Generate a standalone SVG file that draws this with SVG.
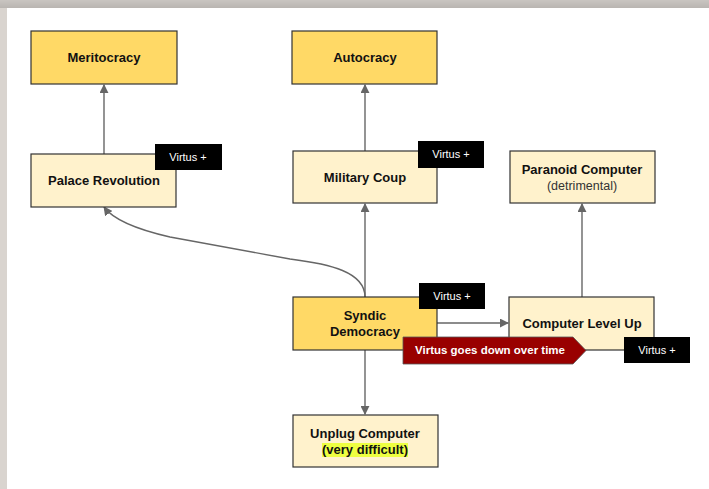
<svg xmlns="http://www.w3.org/2000/svg" width="709" height="489" viewBox="0 0 709 489">
<defs>
<marker id="ah" viewBox="0 0 10 10" refX="9" refY="5" markerWidth="9" markerHeight="9" markerUnits="userSpaceOnUse" orient="auto"><path d="M0,0 L10,5 L0,10 z" fill="#666"/></marker>
<linearGradient id="bgtop" x1="0" y1="0" x2="0" y2="1"><stop offset="0" stop-color="#c9c5c1"/><stop offset="1" stop-color="#b9b5b1"/></linearGradient>
<style>
.dark{fill:#ffd966;stroke:#333;stroke-width:1.2}
.light{fill:#fff2cc;stroke:#333;stroke-width:1.2}
.t{font-family:"Liberation Sans",Arial,sans-serif;font-size:13px;font-weight:bold;fill:#111;text-anchor:middle}
.n{font-weight:normal;fill:#333;font-size:12.5px}
.tag{fill:#000}
.tt{font-family:"Liberation Sans",Arial,sans-serif;font-size:11px;fill:#fff;text-anchor:middle}
.c{fill:none;stroke:#666;stroke-width:1.4;marker-end:url(#ah)}
</style>
</defs>
<rect x="0" y="0" width="709" height="489" fill="#d9d4cf"/>
<rect x="0" y="0" width="709" height="8" fill="url(#bgtop)"/>
<rect x="7" y="8" width="702" height="481" fill="#ffffff"/>
<g id="connectors">
<path class="c" d="M104,154 L104,85"/>
<path class="c" d="M365,151 L365,85"/>
<path class="c" d="M365,297 L365,204"/>
<path class="c" d="M365,350 L365,414"/>
<path class="c" d="M437,323 L508,323"/>
<path class="c" d="M582,297 L582,204"/>
<path class="c" d="M365,297 C365,272 330,264 290,259 L170,237 C135,229 112,218 104,207"/>
</g>
<g id="meritocracy"><rect class="dark" x="31" y="31" width="146" height="53"/><text class="t" x="104" y="62">Meritocracy</text></g>
<g id="autocracy"><rect class="dark" x="292" y="31" width="145" height="53"/><text class="t" x="365" y="62">Autocracy</text></g>
<g id="palace-revolution"><rect class="light" x="31" y="154" width="145" height="53"/><text class="t" x="104" y="185">Palace Revolution</text></g>
<g id="military-coup"><rect class="light" x="293" y="151" width="144" height="52"/><text class="t" x="365" y="182">Military Coup</text></g>
<g id="paranoid-computer"><rect class="light" x="510" y="151" width="145" height="52"/><text class="t" x="582" y="174">Paranoid Computer</text><text class="t n" x="582" y="190">(detrimental)</text></g>
<g id="syndic-democracy"><rect class="dark" x="293" y="297" width="144" height="53"/><text class="t" x="365" y="320">Syndic</text><text class="t" x="365" y="336">Democracy</text></g>
<g id="computer-level-up"><rect class="light" x="509" y="297" width="145" height="53"/><text class="t" x="582" y="328">Computer Level Up</text></g>
<g id="unplug-computer"><rect class="light" x="293" y="415" width="145" height="52"/><text class="t" x="365" y="438">Unplug Computer</text><rect x="322" y="443" width="86" height="14" fill="#eeff41"/><text class="t" x="365" y="454">(very difficult)</text></g>
<g id="tag-palace"><rect class="tag" x="155" y="144" width="67" height="26"/><text class="tt" x="188" y="161">Virtus +</text></g>
<g id="tag-coup"><rect class="tag" x="418" y="141" width="66" height="27"/><text class="tt" x="451" y="158">Virtus +</text></g>
<g id="tag-syndic"><rect class="tag" x="419" y="283" width="66" height="26"/><text class="tt" x="452" y="300">Virtus +</text></g>
<g id="banner"><path d="M403,337 L573,337 L586,350.5 L573,364 L403,364 z" fill="#990000" stroke="#555" stroke-width="0.8"/><text class="tt" x="490" y="354" style="font-weight:bold;font-size:11.5px">Virtus goes down over time</text></g>
<g id="tag-levelup"><rect class="tag" x="624" y="337" width="66" height="26"/><text class="tt" x="657" y="354">Virtus +</text></g>
</svg>
